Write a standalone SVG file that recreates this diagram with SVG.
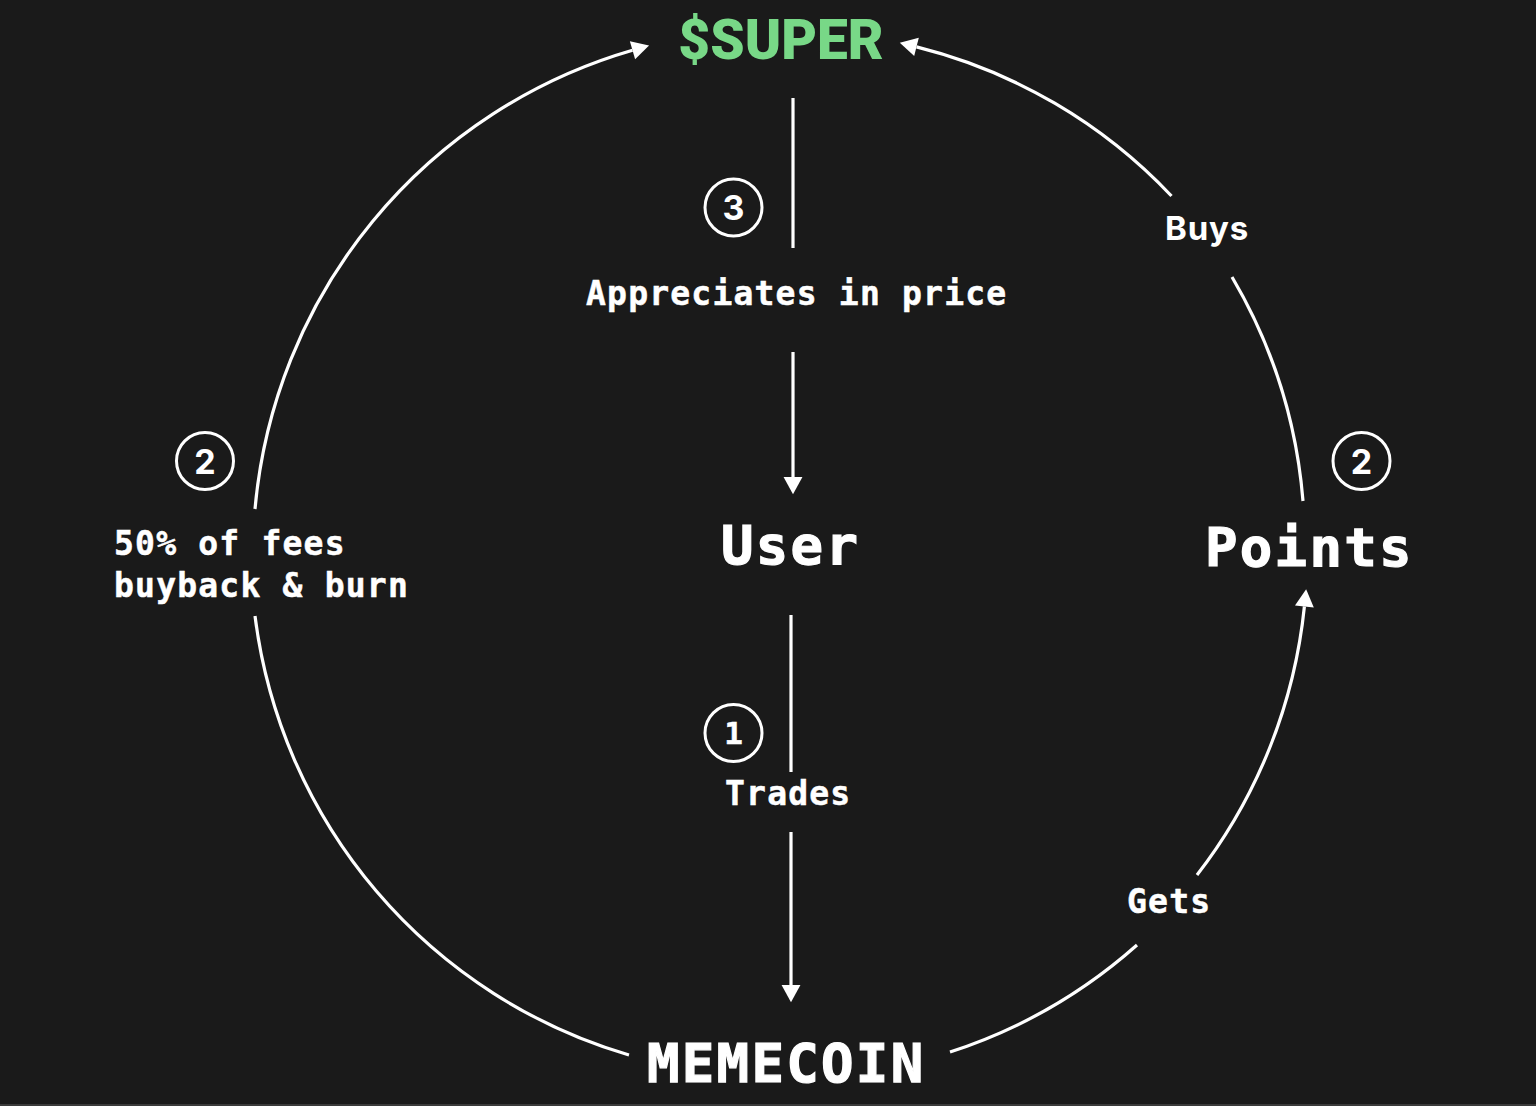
<svg xmlns="http://www.w3.org/2000/svg" width="1536" height="1106" viewBox="0 0 1536 1106">
<style>
.bg{fill:#1a1a1a}
.ln{fill:none;stroke:#ffffff;stroke-width:3.2}
.mono{font-family:"DejaVu Sans Mono","Liberation Mono",monospace;font-weight:700;fill:#ffffff;stroke:#ffffff}
.lbl{font-size:33px;letter-spacing:1.2px;stroke-width:0.5}
.big{font-size:54px;letter-spacing:2.3px;stroke-width:1.2}
.sans{font-family:Inter,"Noto Sans",sans-serif;font-weight:700;fill:#ffffff}
.ring{fill:none;stroke:#ffffff;stroke-width:3}
</style>
<defs>
<marker id="ah" markerUnits="userSpaceOnUse" markerWidth="20" markerHeight="20" viewBox="0 -9 16 18" refX="0" refY="0" orient="auto">
<path d="M0,-8.5 L15.5,0 L0,8.5 z" fill="#ffffff"/>
</marker>
</defs>
<rect class="bg" x="0" y="0" width="1536" height="1106"/>
<rect x="0" y="1104" width="1536" height="2" fill="#3a3a3a"/>

<g id="connectors">
<path class="ln" d="M255 509 A526 526 0 0 1 632.5 50.2" marker-end="url(#ah)"/>
<path class="ln" d="M255 616 A526 526 0 0 0 629 1055"/>
<path class="ln" d="M950 1052 A526 526 0 0 0 1137 945"/>
<path class="ln" d="M1197 875 A526 526 0 0 0 1304.4 606.5" marker-end="url(#ah)"/>
<path class="ln" d="M1303 501 A526 526 0 0 0 1232 277"/>
<path class="ln" d="M1171.5 196 A526 526 0 0 0 916.5 46.9" marker-end="url(#ah)"/>
<path class="ln" d="M793 98 L793 248"/>
<path class="ln" d="M793 352 L793 477" marker-end="url(#ah)"/>
<path class="ln" d="M791 615 L791 772"/>
<path class="ln" d="M791 832 L791 985" marker-end="url(#ah)"/>
</g>

<g id="node-super">
<text x="781" y="59" text-anchor="middle" font-family="Roboto,'Liberation Sans',sans-serif" font-weight="900" font-size="55" fill="#78d887">$SUPER</text>
</g>
<g id="node-user">
<text class="mono big" x="721" y="564">User</text>
</g>
<g id="node-points">
<text class="mono big" x="1205" y="566">Points</text>
</g>
<g id="node-memecoin">
<text class="mono big" x="647" y="1082">MEMECOIN</text>
</g>

<g id="label-appreciates">
<circle class="ring" cx="733.5" cy="207.5" r="28.5"/>
<text class="sans" x="733.5" y="220" text-anchor="middle" font-size="34">3</text>
<text class="mono lbl" x="586" y="305">Appreciates in price</text>
</g>
<g id="label-trades">
<circle class="ring" cx="733.5" cy="733" r="28.5"/>
<text class="mono" x="733.5" y="744" text-anchor="middle" font-size="31" stroke-width="0.5">1</text>
<text class="mono lbl" x="725" y="805">Trades</text>
</g>
<g id="label-fees">
<circle class="ring" cx="205" cy="461" r="28.5"/>
<text class="sans" x="205" y="473.5" text-anchor="middle" font-size="34">2</text>
<text class="mono lbl" x="114" y="555">50% of fees</text>
<text class="mono lbl" x="114" y="597">buyback &amp; burn</text>
</g>
<g id="label-buys">
<circle class="ring" cx="1361.5" cy="461" r="28.5"/>
<text class="sans" x="1361.5" y="473.5" text-anchor="middle" font-size="34">2</text>
<text class="sans" x="1165" y="240" font-size="33" letter-spacing="0.8">Buys</text>
</g>
<g id="label-gets">
<text class="mono lbl" x="1127" y="913">Gets</text>
</g>
</svg>
